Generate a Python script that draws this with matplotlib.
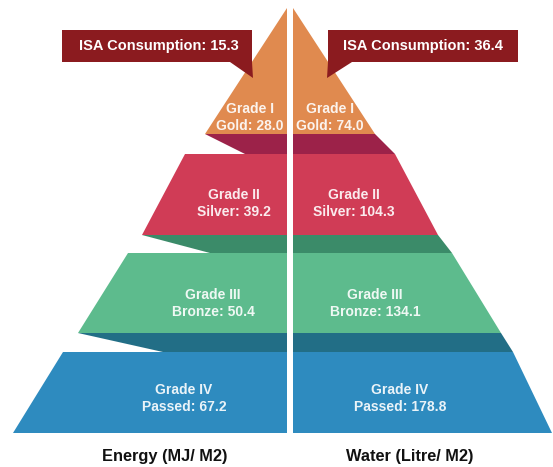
import matplotlib
matplotlib.use("Agg")
import matplotlib.pyplot as plt
from matplotlib.patches import Polygon

# ---- data ----
grades = ["Grade I", "Grade II", "Grade III", "Grade IV"]
levels = ["Gold", "Silver", "Bronze", "Passed"]
energy = [28.0, 39.2, 50.4, 67.2]
water = [74.0, 104.3, 134.1, 178.8]
isa_energy = 15.3
isa_water = 36.4
titles = ["Energy (MJ/ M2)", "Water (Litre/ M2)"]

# ---- style / layout ----
band_colors = ["#E08A4F", "#D03C56", "#5DBB8D", "#2E8BBF"]
shadow_colors = ["#9C2249", "#3B8B69", "#226E86"]
callout_color = "#8B1B1F"
FONT = "Liberation Sans"

W, H = 553, 467
fig = plt.figure(figsize=(W / 100, H / 100), dpi=100)
ax = fig.add_axes([0, 0, 1, 1])
ax.set_xlim(0, W)
ax.set_ylim(H, 0)
ax.axis("off")

XL, XR = 287, 293  # inner edges of left / right halves
# (y_top, y_bot, left_top, left_bot, right_top, right_bot)
bands = [
    (8, 134, XL, 205, XR, 375),
    (154, 235, 185, 142, 395, 438),
    (253, 333, 128, 78, 452, 501),
    (352, 433, 63, 13, 513, 552),
]
shadow_inner = [245, 210, 163]

for i, (yt, yb, lt, lb, rt, rb) in enumerate(bands):
    ax.add_patch(Polygon([(lt, yt), (XL, yt), (XL, yb), (lb, yb)],
                         closed=True, facecolor=band_colors[i], edgecolor="none"))
    ax.add_patch(Polygon([(XR, yt), (rt, yt), (rb, yb), (XR, yb)],
                         closed=True, facecolor=band_colors[i], edgecolor="none"))

for i in range(3):
    yb = bands[i][1]
    yn = bands[i + 1][0]
    ax.add_patch(Polygon([(bands[i][3], yb), (XL, yb), (XL, yn), (shadow_inner[i], yn)],
                         closed=True, facecolor=shadow_colors[i], edgecolor="none"))
    ax.add_patch(Polygon([(XR, yb), (bands[i][5], yb), (bands[i + 1][4], yn), (XR, yn)],
                         closed=True, facecolor=shadow_colors[i], edgecolor="none"))

# labels inside the bands
left_cx = [250, 234, 213, 184]
right_cx = [330, 354, 375, 400]
line1_y = [109, 195, 295, 390]
line2_y = [126, 212, 312, 407]
for i in range(4):
    for cx, vals in ((left_cx[i], energy), (right_cx[i], water)):
        ax.text(cx, line1_y[i], grades[i], ha="center", va="center", color="white",
                fontsize=10, fontweight="bold", family=FONT, alpha=0.9)
        ax.text(cx, line2_y[i], f"{levels[i]}: {vals[i]:.1f}", ha="center", va="center",
                color="white", fontsize=10, fontweight="bold", family=FONT, alpha=0.9)

# callouts
ax.add_patch(Polygon([(62, 30), (252, 30), (252, 62), (62, 62)], closed=True,
                     facecolor=callout_color, edgecolor="none"))
ax.add_patch(Polygon([(230, 62), (252, 62), (253, 78)], closed=True,
                     facecolor=callout_color, edgecolor="none"))
ax.text(159, 46, f"ISA Consumption: {isa_energy}", ha="center", va="center",
        color="white", fontsize=10.5, fontweight="bold", family=FONT)

ax.add_patch(Polygon([(328, 30), (518, 30), (518, 62), (328, 62)], closed=True,
                     facecolor=callout_color, edgecolor="none"))
ax.add_patch(Polygon([(328, 62), (352, 62), (327, 78)], closed=True,
                     facecolor=callout_color, edgecolor="none"))
ax.text(423, 46, f"ISA Consumption: {isa_water}", ha="center", va="center",
        color="white", fontsize=10.5, fontweight="bold", family=FONT)

# bottom titles
ax.text(165, 457, titles[0], ha="center", va="center", color="#111111",
        fontsize=11.8, fontweight="bold", family=FONT)
ax.text(410, 457, titles[1], ha="center", va="center", color="#111111",
        fontsize=11.8, fontweight="bold", family=FONT)

fig.savefig("out.png", dpi=100)
